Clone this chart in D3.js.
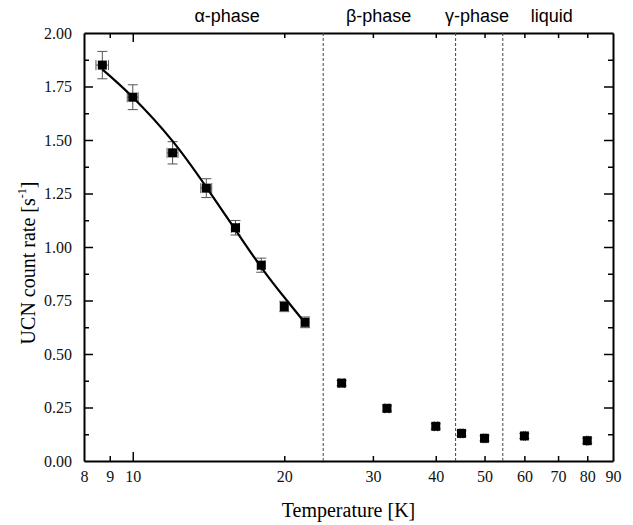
<!DOCTYPE html>
<meta charset="utf-8">
<style>
body { margin: 0; background: #fff; }
</style>
<svg width="633" height="525"></svg>
<script src="https://d3js.org/d3.v7.min.js"></script>
<script>

// measured points: temperature [K], rate [1/s], errors
var temps  = [8.7, 10, 12, 14, 16, 18, 20, 22, 26, 32, 40, 45, 50, 60, 80];
var rates  = [1.85, 1.70, 1.44, 1.275, 1.09, 0.915, 0.722, 0.648, 0.364, 0.246, 0.162, 0.129, 0.106, 0.117, 0.095];
var yErr   = [0.064, 0.058, 0.052, 0.044, 0.034, 0.033, 0.024, 0.025, 0.012, 0.012, 0.012, 0.012, 0.012, 0.012, 0.012];
var xErr   = [0.25, 0.25, 0.3, 0.35, 0.3, 0.3, 0.3, 0.3, 0.3, 0.3, 0.3, 0.3, 0.3, 0.3, 0.3];

// fit curve
var fitT   = [8.7, 10, 12, 14, 16, 18, 20, 22];
var fitR   = [1.83, 1.70, 1.495, 1.28, 1.08, 0.905, 0.765, 0.645];

// phase boundaries
var bounds = [23.9, 43.8, 54.36];
var phases = [["\u03b1-phase", 15.4], ["\u03b2-phase", 30.8], ["\u03b3-phase", 48.3], ["liquid", 68]];

var xTicks = [8, 9, 10, 20, 30, 40, 50, 60, 70, 80, 90];
var yTicks = [0, 0.25, 0.5, 0.75, 1, 1.25, 1.5, 1.75, 2];
var yMinor = [0.125, 0.375, 0.625, 0.875, 1.125, 1.375, 1.625, 1.875];

var serif = "'Liberation Serif', 'Times New Roman', serif",
    sans = "'Liberation Sans', Arial, sans-serif";

var margin = {top: 33, right: 20, bottom: 64, left: 84},
    width = 633 - margin.left - margin.right,
    height = 525 - margin.top - margin.bottom;

var svg = d3.select("svg");
var g = svg.append("g").attr("transform", "translate(" + margin.left + "," + margin.top + ")");

var x = d3.scaleLog().domain([8, 90]).range([0, width]);
var y = d3.scaleLinear().domain([0, 2]).range([height, 0]);

function tickLen(d) { return d == 10 ? 9 : 5; }

// bottom axis
var xb = g.append("g").attr("transform", "translate(0," + height + ")")
  .call(d3.axisBottom(x).tickValues(xTicks).tickFormat(d3.format("d")).tickSizeInner(-5).tickSizeOuter(0).tickPadding(10));
xb.selectAll(".tick line").attr("y2", function(d) { return -tickLen(d); });
xb.selectAll(".tick").filter(function(d) { return d == 8 || d == 90; }).select("line").remove();

// top axis
var xt = g.append("g")
  .call(d3.axisTop(x).tickValues(xTicks).tickFormat("").tickSizeInner(-5).tickSizeOuter(0));
xt.selectAll(".tick line").attr("y2", function(d) { return tickLen(d); });
xt.selectAll(".tick").filter(function(d) { return d == 8 || d == 90; }).select("line").remove();

// left axis
var yl = g.append("g")
  .call(d3.axisLeft(y).tickValues(yTicks).tickFormat(d3.format(".2f")).tickSizeInner(-9).tickSizeOuter(0).tickPadding(12));
yl.selectAll(".tick").filter(function(d) { return d == 0 || d == 2; }).select("line").remove();
g.append("g")
  .call(d3.axisLeft(y).tickValues(yMinor).tickFormat("").tickSizeInner(-5).tickSizeOuter(0))
  .select(".domain").remove();

// right axis
var yr = g.append("g").attr("transform", "translate(" + width + ",0)")
  .call(d3.axisRight(y).tickValues(yTicks).tickFormat("").tickSizeInner(-9).tickSizeOuter(0));
yr.selectAll(".tick").filter(function(d) { return d == 0 || d == 2; }).select("line").remove();
g.append("g").attr("transform", "translate(" + width + ",0)")
  .call(d3.axisRight(y).tickValues(yMinor).tickFormat("").tickSizeInner(-5).tickSizeOuter(0))
  .select(".domain").remove();

g.selectAll(".domain").attr("stroke-width", 2);
g.selectAll(".tick line").attr("stroke-width", 1.5);
g.selectAll(".tick text")
  .attr("fill", "#111")
  .style("font-family", serif)
  .style("font-size", "16px");

// phase boundaries
g.selectAll(".bound")
  .data(bounds)
  .enter().append("line")
    .attr("x1", function(d) { return x(d); })
    .attr("x2", function(d) { return x(d); })
    .attr("y1", 0)
    .attr("y2", height)
    .attr("stroke", "#444")
    .attr("stroke-width", 1)
    .attr("stroke-dasharray", "3,2");

// phase labels
svg.selectAll(".phase")
  .data(phases)
  .enter().append("text")
    .style("font-family", sans)
    .style("font-size", "18px")
    .attr("text-anchor", "middle")
    .attr("x", function(d) { return margin.left + x(d[1]); })
    .attr("y", 22)
    .text(function(d) { return d[0]; });

var pts = temps.map(function(t, i) { return {t: t, r: rates[i], ey: yErr[i], ex: xErr[i]}; });

// error bars
var eb = g.append("g").attr("stroke", "#555").attr("stroke-width", 1);
pts.forEach(function(d) {
  var cx = x(d.t), cy = y(d.r);
  eb.append("line").attr("x1", cx).attr("x2", cx).attr("y1", y(d.r + d.ey)).attr("y2", y(d.r - d.ey));
  eb.append("line").attr("x1", cx - 5).attr("x2", cx + 5).attr("y1", y(d.r + d.ey)).attr("y2", y(d.r + d.ey));
  eb.append("line").attr("x1", cx - 5).attr("x2", cx + 5).attr("y1", y(d.r - d.ey)).attr("y2", y(d.r - d.ey));
  var x0 = x(d.t - d.ex), x1 = x(d.t + d.ex);
  eb.append("line").attr("x1", x0).attr("x2", x1).attr("y1", cy).attr("y2", cy);
  eb.append("line").attr("x1", x0).attr("x2", x0).attr("y1", cy - 5).attr("y2", cy + 5);
  eb.append("line").attr("x1", x1).attr("x2", x1).attr("y1", cy - 5).attr("y2", cy + 5);
});

// fit curve
var fit = fitT.map(function(t, i) { return [t, fitR[i]]; });
g.append("path")
  .datum(fit)
  .attr("fill", "none")
  .attr("stroke", "#000")
  .attr("stroke-width", 2.2)
  .attr("d", d3.line().curve(d3.curveNatural)
    .x(function(d) { return x(d[0]); })
    .y(function(d) { return y(d[1]); }));

// squares
g.selectAll(".pt")
  .data(pts)
  .enter().append("rect")
    .attr("x", function(d) { return x(d.t) - 4.5; })
    .attr("y", function(d) { return y(d.r) - 4.5; })
    .attr("width", 9)
    .attr("height", 9)
    .attr("fill", "#000");

// axis titles
svg.append("text")
  .style("font-family", serif)
  .style("font-size", "20px")
  .attr("text-anchor", "middle")
  .attr("x", margin.left + width / 2)
  .attr("y", 517)
  .text("Temperature [K]");

var yt = svg.append("text")
  .style("font-family", serif)
  .style("font-size", "20px")
  .attr("text-anchor", "middle")
  .attr("transform", "translate(35," + 263 + ") rotate(-90)");
yt.append("tspan").text("UCN count rate [s");
yt.append("tspan").style("font-size", "12px").attr("dy", -9).text("-1");
yt.append("tspan").attr("dy", 9).text("]");

</script>
